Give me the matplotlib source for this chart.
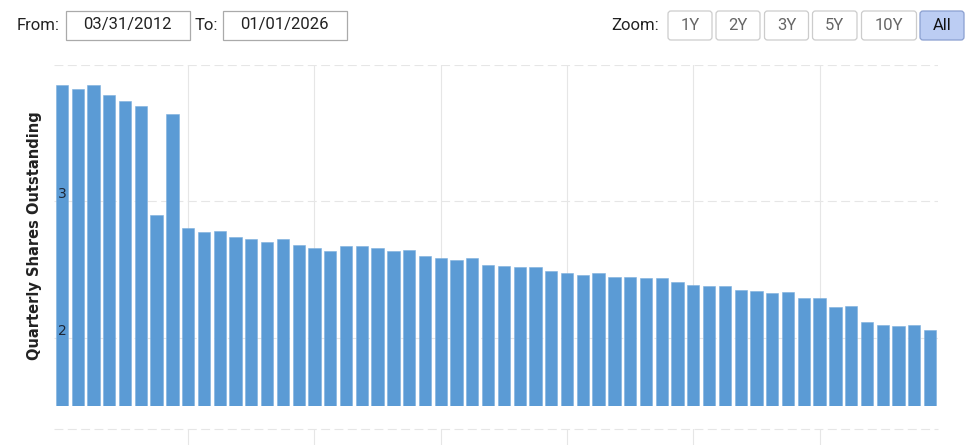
import numpy as np
import matplotlib
matplotlib.use("Agg")
import matplotlib.pyplot as plt
from matplotlib.patches import FancyBboxPatch, Rectangle
import matplotlib.transforms as mtransforms

# quarterly shares outstanding, 2012 Q1 .. 2025 Q4
quarters = [f"{y}Q{q}" for y in range(2012, 2026) for q in range(1, 5)]
shares = [3.853, 3.824, 3.853, 3.779, 3.733, 3.696, 2.897, 3.640,
          2.804, 2.777, 2.784, 2.740, 2.721, 2.703, 2.721, 2.684,
          2.657, 2.637, 2.676, 2.676, 2.657, 2.640, 2.647, 2.603,
          2.583, 2.574, 2.583, 2.537, 2.529, 2.520, 2.520, 2.490,
          2.473, 2.463, 2.473, 2.446, 2.446, 2.436, 2.436, 2.409,
          2.390, 2.380, 2.380, 2.353, 2.343, 2.326, 2.336, 2.289,
          2.289, 2.225, 2.233, 2.113, 2.096, 2.086, 2.096, 2.059]
y_ticks = [2, 3]
x_grid = [8, 16, 24, 32, 40, 48]   # every two years
zoom_buttons = ["1Y", "2Y", "3Y", "5Y", "10Y", "All"]
date_from = "03/31/2012"
date_to = "01/01/2026"

W, H = 976, 445
fig = plt.figure(figsize=(W / 100, H / 100), dpi=100)

def frac(x0, y0, x1, y1):
    return [x0 / W, 1 - y1 / H, (x1 - x0) / W, (y1 - y0) / H]

grid_c = "#e6e6e6"
bar_c = "#5b9bd5"
x = np.arange(len(shares))

# main pane
ax = fig.add_axes(frac(54, 65, 938, 406))
ax.bar(x, shares, width=0.78, color=bar_c, edgecolor="#7fb0de", linewidth=0.4, zorder=3)
ax.set_xlim(-0.5, len(shares) - 0.5)
ax.set_ylim(1.5, 4.0)
for v in y_ticks + [4]:
    ax.axhline(v, color=grid_c, lw=0.8, ls=(0, (8, 4)), zorder=1)
for g in x_grid:
    ax.axvline(g, color=grid_c, lw=0.8, zorder=1)
ax.set_xticks([])
ax.set_yticks([])
for s in ax.spines.values():
    s.set_visible(False)
off = mtransforms.ScaledTranslation(4 / 100, 7 / 100, fig.dpi_scale_trans)
for v in y_ticks:
    ax.text(0, v, str(v), transform=ax.get_yaxis_transform() + off,
            ha="left", va="center", fontsize=10, color="#1c2636",
            family="DejaVu Sans", zorder=5)

# lower (navigator) pane, mostly cropped
ax2 = fig.add_axes(frac(54, 429, 938, 445))
ax2.set_xlim(-0.5, len(shares) - 0.5)
ax2.set_ylim(0, 1)
ax2.axhline(1, color=grid_c, lw=0.8, ls=(0, (8, 4)), clip_on=False)
for g in x_grid:
    ax2.axvline(g, color=grid_c, lw=0.8)
ax2.axis("off")

fig.text(35 / W, 1 - 236 / H, "Quarterly Shares Outstanding", rotation=90,
         ha="center", va="center", fontsize=10.5, fontweight="bold",
         color="#222222", family="DejaVu Sans")

# header controls drawn in pixel space
ov = fig.add_axes([0, 0, 1, 1])
ov.set_xlim(0, W)
ov.set_ylim(H, 0)
ov.axis("off")
ov.patch.set_alpha(0)

font = "Roboto"
ov.text(17, 25, "From:", ha="left", va="center", fontsize=12, family=font, color="#222222")
ov.add_patch(Rectangle((66, 10.5), 123.5, 29, fill=False, ec="#aaaaaa", lw=0.9))
ov.text(127.5, 25, date_from, ha="center", va="center", fontsize=12, family=font, color="#222222")
ov.text(195, 25, "To:", ha="left", va="center", fontsize=12, family=font, color="#222222")
ov.add_patch(Rectangle((222.5, 10.5), 124, 29, fill=False, ec="#aaaaaa", lw=0.9))
ov.text(284.5, 25, date_to, ha="center", va="center", fontsize=12, family=font, color="#222222")

ov.text(611, 26, "Zoom:", ha="left", va="center", fontsize=12, family=font, color="#222222")
btn_x = [(668, 712), (716, 760), (764.5, 808.5), (812.5, 857), (861.5, 916.5), (920, 964)]
for (x0, x1), lab in zip(btn_x, zoom_buttons):
    active = lab == "All"
    ov.add_patch(FancyBboxPatch((x0 + 3, 11 + 3), x1 - x0 - 6, 29 - 6,
                                boxstyle="round,pad=3",
                                fc="#bccdf3" if active else "white",
                                ec="#8a9fd0" if active else "#cccccc", lw=0.9))
    ov.text((x0 + x1) / 2, 26, lab, ha="center", va="center", fontsize=12,
            family=font, color="#111111" if active else "#666666")

fig.savefig("out.png", dpi=100)
